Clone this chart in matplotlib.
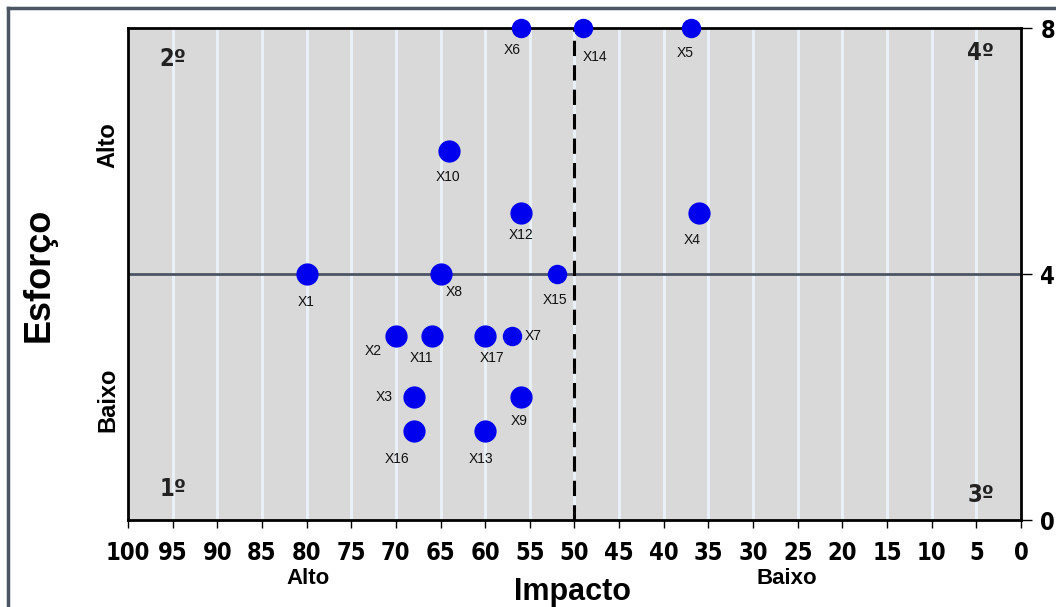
"""Matriz esforço x impacto (quadrantes)."""

import matplotlib.pyplot as plt
from matplotlib.lines import Line2D

BG = "#d9d9d9"
BLUE = "#0000ee"
SLATE = "#4b5563"
GRIDC = "#eaf0f7"

NAMES = ["X1", "X2", "X3", "X4", "X5", "X6", "X7", "X8", "X9", "X10",
         "X11", "X12", "X13", "X14", "X15", "X16", "X17"]
IMPACTO = [80, 70, 68, 36, 37, 56, 57, 65, 56, 64, 66, 56, 60, 49, 52, 68, 60]
ESFORCO = [4, 3, 2, 5, 8, 8, 3, 4, 2, 6, 3, 5, 1.45, 8, 4, 1.45, 3]
SMALL = {"X5", "X6", "X7", "X14", "X15"}
XTICKS = list(range(100, -1, -5))
YTICKS = [0, 4, 8]

# label offsets in points (dx, dy)
OFFS = {
    "X1": (0, -20), "X2": (-16, -11), "X3": (-21, 0), "X4": (-5, -20),
    "X5": (-4, -18), "X6": (-6, -16), "X7": (15, 0), "X8": (10, -13),
    "X9": (-1, -17), "X10": (-1, -19), "X11": (-7, -16), "X12": (0, -16),
    "X13": (-3, -20), "X14": (8, -21), "X15": (-1, -19), "X16": (-12, -20),
    "X17": (5, -16),
}

ARIAL = ["Liberation Sans", "DejaVu Sans"]
TICKFONT = dict(family="DejaVu Sans", stretch="condensed", weight="bold", size=17)

fig = plt.figure(figsize=(10.56, 6.07), dpi=100)
ax = fig.add_axes([0.1212, 0.1433, 0.8456, 0.8105])
ax.set_facecolor(BG)

for v in range(5, 100, 5):
    ax.axvline(v, color=GRIDC, linewidth=2.2, zorder=1)
ax.axhline(4, color=SLATE, linewidth=2, zorder=2)
ax.axvline(50, color="black", linewidth=2.2, linestyle=(0, (5, 3)), zorder=2)

for n, x, y in zip(NAMES, IMPACTO, ESFORCO):
    ms = 13 if n in SMALL else 15
    ax.plot(x, y, "o", color=BLUE, markersize=ms, zorder=4, clip_on=False)
    dx, dy = OFFS[n]
    ax.annotate(n, (x, y), textcoords="offset points", xytext=(dx, dy),
                ha="center", va="center", fontsize=10, family=ARIAL,
                color="#111111", zorder=5, annotation_clip=False)

ax.set_xlim(100, 0)
ax.set_ylim(0, 8)
ax.set_xticks(XTICKS, [str(t) for t in XTICKS], **TICKFONT)
ax.set_yticks(YTICKS, [str(t) for t in YTICKS], **TICKFONT)
ax.yaxis.tick_right()
ax.tick_params(axis="x", length=6, width=1, pad=9)
ax.tick_params(axis="y", length=8, width=1, pad=6)
for s in ax.spines.values():
    s.set_linewidth(2)
    s.set_color("black")

# axis titles
fig.text(0.542, 0.025, "Impacto", ha="center", va="center", fontsize=22,
         fontweight="bold", family=ARIAL)
fig.text(0.037, 0.547, "Esforço", ha="center", va="center", fontsize=26,
         fontweight="bold", family=ARIAL, rotation=90)
fig.text(0.292, 0.047, "Alto", ha="center", va="center", fontsize=16,
         fontweight="bold", family=ARIAL)
fig.text(0.745, 0.047, "Baixo", ha="center", va="center", fontsize=16,
         fontweight="bold", family=ARIAL)
fig.text(0.102, 0.761, "Alto", ha="center", va="center", fontsize=17,
         fontweight="bold", family=ARIAL, rotation=90)
fig.text(0.102, 0.341, "Baixo", ha="center", va="center", fontsize=17,
         fontweight="bold", family=ARIAL, rotation=90)

# quadrant numbers
for txt, x, y in [("2º", 95, 7.5), ("4º", 4.5, 7.6), ("1º", 95, 0.5), ("3º", 4.5, 0.4)]:
    ax.text(x, y, txt, ha="center", va="center", fontsize=17,
            fontweight="bold", family="DejaVu Sans", stretch="condensed",
            color="#222222")

# frame lines at the top and left edges
fig.add_artist(Line2D([0.0076, 1.0], [0.987, 0.987], transform=fig.transFigure,
                      color=SLATE, linewidth=2.5))
fig.add_artist(Line2D([0.0076, 0.0076], [0.0, 0.987], transform=fig.transFigure,
                      color=SLATE, linewidth=2.5))

fig.savefig("out.png", dpi=100, facecolor="white")
